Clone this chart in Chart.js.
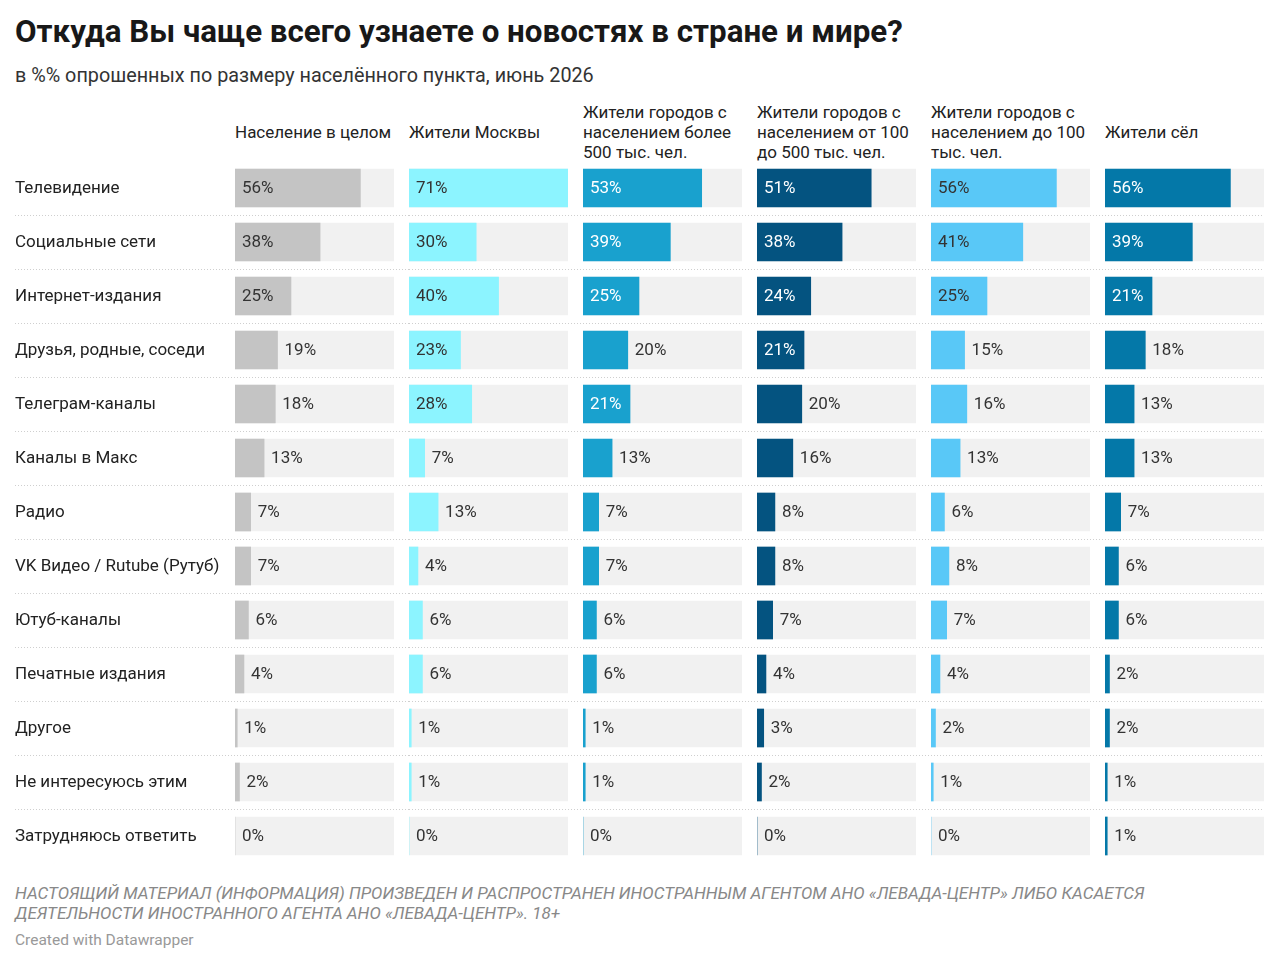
<!DOCTYPE html>
<html>
<head>
<meta charset="utf-8">
<title>Откуда Вы чаще всего узнаете о новостях в стране и мире?</title>
<script src="https://cdn.jsdelivr.net/npm/chart.js"></script>
<style>
  body { margin: 0; background: #fff; font-family: Roboto, "Noto Sans", sans-serif; color: #222; }
  #page { position: relative; width: 1280px; height: 964px; overflow: hidden; }
  h1 { position: absolute; left: 15px; top: 12px; margin: 0; font-size: 31.3px; line-height: 40px; font-weight: 700; color: #181818; white-space: nowrap; }
  .sub { position: absolute; left: 15px; top: 63px; font-size: 19.8px; line-height: 26px; color: #333; white-space: nowrap; }
  .head { position: absolute; top: 102px; height: 60px; width: 172px; display: flex; align-items: center;
          font-size: 17px; line-height: 20px; color: #222; }
  .box { position: absolute; top: 161px; height: 702px; }
  .notes { position: absolute; left: 15px; top: 883px; font-size: 17px; line-height: 20px; font-style: italic; color: #888; white-space: nowrap; }
  .credit { position: absolute; left: 15px; top: 931px; font-size: 15.5px; color: #999; }
</style>
</head>
<body>
<div id="page">
  <h1>Откуда Вы чаще всего узнаете о новостях в стране и мире?</h1>
  <div class="sub">в %% опрошенных по размеру населённого пункта, июнь 2026</div>
  <div class="notes">НАСТОЯЩИЙ МАТЕРИАЛ (ИНФОРМАЦИЯ) ПРОИЗВЕДЕН И РАСПРОСТРАНЕН ИНОСТРАННЫМ АГЕНТОМ АНО «ЛЕВАДА-ЦЕНТР» ЛИБО КАСАЕТСЯ<br>ДЕЯТЕЛЬНОСТИ ИНОСТРАННОГО АГЕНТА АНО «ЛЕВАДА-ЦЕНТР». 18+</div>
  <div class="credit">Created with Datawrapper</div>
</div>

<script>
  // Источники новостей (строки)
  const sources = [
    'Телевидение', 'Социальные сети', 'Интернет-издания', 'Друзья, родные, соседи',
    'Телеграм-каналы', 'Каналы в Макс', 'Радио', 'VK Видео / Rutube (Рутуб)',
    'Ютуб-каналы', 'Печатные издания', 'Другое', 'Не интересуюсь этим', 'Затрудняюсь ответить'
  ];

  // Группы опрошенных (столбцы)
  const groups = [
    'Население в целом',
    'Жители Москвы',
    'Жители городов с населением более 500 тыс. чел.',
    'Жители городов с населением от 100 до 500 тыс. чел.',
    'Жители городов с населением до 100 тыс. чел.',
    'Жители сёл'
  ];

  // Значения, %
  const total      = [56, 38, 25, 19, 18, 13, 7, 7, 6, 4, 1, 2, 0];
  const moscow     = [71, 30, 40, 23, 28, 7, 13, 4, 6, 6, 1, 1, 0];
  const over500k   = [53, 39, 25, 20, 21, 13, 7, 7, 6, 6, 1, 1, 0];
  const from100k   = [51, 38, 24, 21, 20, 16, 8, 8, 7, 4, 3, 2, 0];
  const under100k  = [56, 41, 25, 15, 16, 13, 6, 8, 7, 4, 2, 1, 0];
  const villages   = [56, 39, 21, 18, 13, 13, 7, 6, 6, 2, 2, 1, 1];

  const series = [total, moscow, over500k, from100k, under100k, villages];
  const barColors = ['#c4c4c4', '#8cf4ff', '#19a1ce', '#045380', '#59c8f7', '#0478a8'];
  const insideText = ['#333', '#333', '#fff', '#fff', '#333', '#fff'];

  const SCALE_MAX = 71;
  const COL_LEFT = 235, COL_WIDTH = 159, COL_GAP = 15, LABEL_LEFT = 15;
  const FONT = '17px Roboto, "Noto Sans", sans-serif';

  // Подписи значений: внутри столбца, если помещаются, иначе справа
  const valueLabels = {
    id: 'valueLabels',
    afterDatasetsDraw(chart, args, opts) {
      const ctx = chart.ctx;
      const meta = chart.getDatasetMeta(0);
      ctx.save();
      ctx.font = FONT;
      ctx.textBaseline = 'middle';
      ctx.textAlign = 'left';
      meta.data.forEach((bar, i) => {
        const text = chart.data.datasets[0].data[i] + '%';
        const tw = ctx.measureText(text).width;
        const w = bar.x - bar.base;
        if (w >= tw + 15) {
          ctx.fillStyle = opts.inside;
          ctx.fillText(text, bar.base + 7, bar.y + 1);
        } else {
          ctx.fillStyle = '#333';
          ctx.fillText(text, bar.x + 7, bar.y + 1);
        }
      });
      ctx.restore();
    }
  };

  // Названия строк слева (только в первом графике)
  const rowLabels = {
    id: 'rowLabels',
    afterDraw(chart, args, opts) {
      if (!opts.show) return;
      const y = chart.scales.y;
      const ctx = chart.ctx;
      ctx.save();
      ctx.font = FONT;
      ctx.fillStyle = '#222';
      ctx.textBaseline = 'middle';
      ctx.textAlign = 'left';
      chart.data.labels.forEach((label, i) => {
        ctx.fillText(label, LABEL_LEFT, y.getPixelForValue(i) + 1);
      });
      ctx.restore();
    }
  };

  // Пунктирные разделители между строками
  const separators = {
    id: 'separators',
    beforeDatasetsDraw(chart, args, opts) {
      const y = chart.scales.y;
      const ctx = chart.ctx;
      const step = y.getPixelForValue(1) - y.getPixelForValue(0);
      ctx.save();
      ctx.strokeStyle = '#cfcfcf';
      ctx.lineWidth = 1;
      ctx.setLineDash([1, 2]);
      for (let i = 0; i < sources.length - 1; i++) {
        const py = Math.round(y.getPixelForValue(i) + step / 2) + 0.5;
        ctx.beginPath();
        ctx.moveTo(opts.from, py);
        ctx.lineTo(chart.width, py);
        ctx.stroke();
      }
      ctx.restore();
    }
  };

  const page = document.getElementById('page');

  series.forEach((values, c) => {
    const first = c === 0;
    const last = c === series.length - 1;
    const colX = COL_LEFT + c * (COL_WIDTH + COL_GAP);
    const left = first ? 0 : colX;
    const width = (first ? COL_LEFT : 0) + COL_WIDTH + (last ? 0 : COL_GAP);

    const head = document.createElement('div');
    head.className = 'head';
    head.style.left = colX + 'px';
    head.textContent = groups[c];
    page.appendChild(head);

    const box = document.createElement('div');
    box.className = 'box';
    box.style.left = left + 'px';
    box.style.width = width + 'px';
    const canvas = document.createElement('canvas');
    box.appendChild(canvas);
    page.appendChild(box);

    new Chart(canvas, {
      type: 'bar',
      data: {
        labels: sources,
        datasets: [
          {
            data: values,
            backgroundColor: barColors[c],
            barThickness: 38,
            grouped: false,
            order: 0
          },
          {
            data: sources.map(() => SCALE_MAX),
            backgroundColor: '#f1f1f1',
            barThickness: 38,
            grouped: false,
            order: 1
          }
        ]
      },
      options: {
        indexAxis: 'y',
        responsive: true,
        maintainAspectRatio: false,
        animation: false,
        layout: { padding: { left: first ? COL_LEFT : 0, right: last ? 0 : COL_GAP, top: 0, bottom: 0 } },
        scales: {
          x: { display: false, min: 0, max: SCALE_MAX },
          y: { display: false }
        },
        plugins: {
          legend: { display: false },
          tooltip: { enabled: false },
          valueLabels: { inside: insideText[c] },
          rowLabels: { show: first },
          separators: { from: first ? LABEL_LEFT : 0 }
        }
      },
      plugins: [separators, valueLabels, rowLabels]
    });
  });
</script>
</body>
</html>
